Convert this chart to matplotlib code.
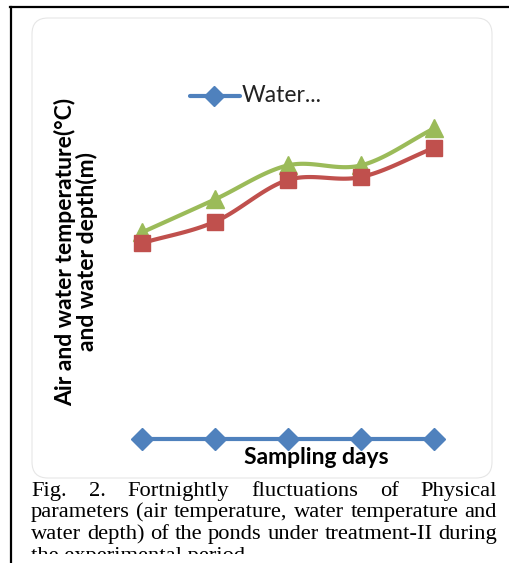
import matplotlib
matplotlib.use('Agg')
import matplotlib.pyplot as plt
import numpy as np
from matplotlib.patches import FancyBboxPatch, Rectangle
from matplotlib.lines import Line2D
from matplotlib.transforms import IdentityTransform

# data (arbitrary units, axis hidden)
days = [1, 2, 3, 4, 5]
water_depth = [1.1, 1.1, 1.1, 1.1, 1.1]
water_temp = [21.3, 23.5, 27.8, 28.1, 31.1]
air_temp = [22.4, 25.8, 29.3, 29.3, 33.1]

ylabel = 'Air and water temperature(°C)\nand water depth(m)'
xlabel = 'Sampling days'
legend_text = 'Water...'
caption = [
    'Fig. 2. Fortnightly fluctuations of Physical',
    'parameters (air temperature, water temperature and',
    'water depth) of the ponds under treatment-II during',
    'the experimental period',
]

W, H = 509, 563
fig = plt.figure(figsize=(W / 100, H / 100), dpi=100)


def fx(px):
    return px / W


def fy(py):
    return 1 - py / H


def smooth(x, y, n=30):
    # catmull-rom like excel smoothed line
    x = np.asarray(x, float)
    y = np.asarray(y, float)
    px = np.concatenate([[2 * x[0] - x[1]], x, [2 * x[-1] - x[-2]]])
    py = np.concatenate([[2 * y[0] - y[1]], y, [2 * y[-1] - y[-2]]])
    xs, ys = [], []
    t = np.linspace(0, 1, n)
    for i in range(1, len(px) - 2):
        for p, out in ((px, xs), (py, ys)):
            p0, p1, p2, p3 = p[i - 1], p[i], p[i + 1], p[i + 2]
            out.append(0.5 * (2 * p1 + (-p0 + p2) * t
                              + (2 * p0 - 5 * p1 + 4 * p2 - p3) * t ** 2
                              + (-p0 + 3 * p1 - 3 * p2 + p3) * t ** 3))
    return np.concatenate(xs), np.concatenate(ys)


# outer black frame
fig.add_artist(Line2D([fx(10), fx(509)], [fy(7), fy(7)], color='black', lw=1.6))
fig.add_artist(Line2D([fx(11), fx(11)], [fy(7), fy(563)], color='black', lw=1.6))

# chart area with rounded corners
box = FancyBboxPatch((32, H - 478), 460, 460, boxstyle='round,pad=0,rounding_size=16',
                     transform=IdentityTransform(), facecolor='white',
                     edgecolor='#e6e6e6', lw=0.8, zorder=-5)
fig.add_artist(box)

ax = fig.add_axes([fx(105.5), fy(450), fx(470.5) - fx(105.5), fy(110) - fy(450)])
ax.set_xlim(0.5, 5.5)
ax.set_ylim(0, 35)
ax.axis('off')

blue, red, green = '#4f81bd', '#c0504d', '#9bbb59'
sx, sy = smooth(days, air_temp)
ax.plot(sx, sy, color=green, lw=3, solid_capstyle='round', zorder=2)
ax.plot(days, air_temp, ls='none', marker='^', ms=13, color=green, zorder=3)
sx, sy = smooth(days, water_temp)
ax.plot(sx, sy, color=red, lw=3, solid_capstyle='round', zorder=4)
ax.plot(days, water_temp, ls='none', marker='s', ms=12, color=red, zorder=5)
ax.plot(days, water_depth, color=blue, lw=3, marker='D', ms=11, zorder=6)

# legend
fig.add_artist(Line2D([fx(190), fx(240)], [fy(96), fy(96)], color=blue, lw=3,
                      solid_capstyle='round'))
fig.add_artist(Line2D([fx(214)], [fy(96)], color=blue, marker='D', ms=10, ls='none'))
fig.text(fx(242), fy(96), legend_text, fontsize=16.5, family='Lato', color='#222222',
         va='center', ha='left')

fig.text(fx(316), fy(458), xlabel, fontsize=16.5, family='Lato', fontweight='bold',
         va='center', ha='center', color='black')
fig.text(fx(76), fy(252), ylabel, fontsize=16.5, family='Lato', fontweight='bold',
         rotation=90, va='center', ha='center', multialignment='center',
         linespacing=1.0, color='black')

# caption, justified
renderer = fig.canvas.get_renderer()
left, right = 31, 497
base = [496, 517, 539, 561]
probe = fig.text(0, 0, caption[2], fontsize=10, family='Liberation Serif')
cap_size = 10 * (right - left - 2) / probe.get_window_extent(renderer).width
probe.remove()
cap_font = dict(fontsize=cap_size, family='Liberation Serif', color='black')
for i, line in enumerate(caption):
    words = line.split(' ')
    if i == len(caption) - 1:
        fig.text(fx(left), fy(base[i]), line, va='baseline', ha='left', **cap_font)
        continue
    widths = []
    for w in words:
        t = fig.text(0, 0, w, **cap_font)
        widths.append(t.get_window_extent(renderer).width)
        t.remove()
    gap = (right - left - sum(widths)) / (len(words) - 1)
    x = left
    for w, wd in zip(words, widths):
        fig.text(fx(x), fy(base[i]), w, va='baseline', ha='left', **cap_font)
        x += wd + gap

# bottom of page cut off
fig.add_artist(Rectangle((fx(13), 0), 1, fy(554), transform=fig.transFigure,
                         facecolor='white', edgecolor='none', zorder=10))

fig.savefig('out.png', dpi=100)
